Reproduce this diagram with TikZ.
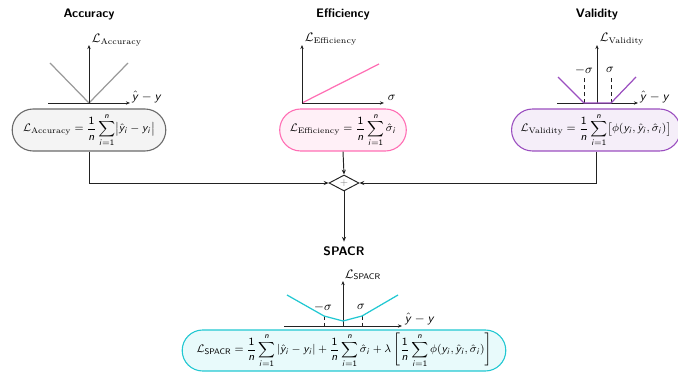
\documentclass[tikz,border=0pt]{standalone}
\usepackage{amsmath}
\usetikzlibrary{shapes.misc,shapes.geometric,arrows.meta}
\DeclareSymbolFont{sfit}{OT1}{cmss}{m}{sl}
\DeclareSymbolFont{sfup}{OT1}{cmss}{m}{n}
\DeclareMathSymbol{y}{\mathalpha}{sfit}{`y}
\DeclareMathSymbol{n}{\mathalpha}{sfit}{`n}
\DeclareMathSymbol{i}{\mathalpha}{sfit}{`i}
\DeclareMathSymbol{1}{\mathalpha}{sfup}{`1}
\newcommand\pxu{0.73pt}
\definecolor{accB}{HTML}{6A6A6A}
\definecolor{accF}{HTML}{F4F4F4}
\definecolor{accL}{HTML}{9A9A9A}
\definecolor{effB}{HTML}{FF6EB4}
\definecolor{effF}{HTML}{FFF0F7}
\definecolor{valB}{HTML}{9B4FC0}
\definecolor{valF}{HTML}{F5EEF9}
\definecolor{spaB}{HTML}{22C8D2}
\definecolor{spaF}{HTML}{E8FAFB}
\definecolor{axc}{HTML}{222222}
\begin{document}
\begin{tikzpicture}[x=0.73pt,y=-0.73pt,
  every node/.style={font=\fontsize{9}{10}\selectfont\sffamily},
  title/.style={font=\fontsize{9}{10}\selectfont\sffamily\bfseries},
  lossbox/.style={rounded rectangle, line width=0.8pt, inner sep=0.5pt, minimum height=42*\pxu,
     font=\fontsize{8.4}{10}\selectfont},
  axis/.style={draw=axc, line width=0.7pt, -{Stealth[length=3pt,width=2.4pt]}},
  conn/.style={draw=axc, line width=0.7pt, -{Stealth[length=3.5pt,width=3pt]}},
  curve/.style={line width=0.9pt},
  guide/.style={densely dashed, line width=0.6pt, draw=axc},
  lab/.style={inner sep=0.5pt}
]
\useasboundingbox (0,0) rectangle (678,372);

% titles
\node[title] (tacc) at (89,14) {Accuracy};
\node[title] (teff) at (343,14) {Efficiency};
\node[title] (tval) at (597,14) {Validity};

% Accuracy plot
\draw[curve, draw=accL] (50,63) -- (89,103) -- (128,63);
\draw[axis] (48,103) -- (130,103);
\draw[axis] (89,103) -- (89,45);
\node[lab, anchor=west] (accx) at (131,97) {$\hat{y}-y$};
\node[lab, anchor=west] (accy) at (91,40) {$\mathcal{L}_{\textrm{Accuracy}}$};

% Efficiency plot
\draw[curve, draw=effB] (302,103) -- (379,64);
\draw[axis] (302,103) -- (384,103);
\draw[axis] (302,103) -- (302,45);
\node[lab, anchor=west] (effx) at (387,98) {$\sigma$};
\node[lab, anchor=west] (effy) at (304,39) {$\mathcal{L}_{\textrm{Efficiency}}$};

% Validity plot
\draw[guide] (584,103) -- (584,77);
\draw[guide] (611,103) -- (611,77);
\draw[axis] (557,103) -- (638,103);
\draw[axis] (597,103) -- (597,45);
\draw[curve, draw=valB] (558,77) -- (584,103) -- (611,103) -- (636,77);
\node[lab] (valm) at (584,70) {$-\sigma$};
\node[lab] (valp) at (610,70) {$\sigma$};
\node[lab, anchor=west] (valx) at (639,97) {$\hat{y}-y$};
\node[lab, anchor=west] (valy) at (599,39) {$\mathcal{L}_{\textrm{Validity}}$};

% loss boxes
\node[lossbox, draw=accB, fill=accF, minimum width=155*\pxu] (acc) at (89,130)
  {$\displaystyle \mathcal{L}_{\textrm{Accuracy}} = \frac{1}{n}\sum_{i=1}^{n}\bigl|\hat{y}_i - y_i\bigr|$};
\node[lossbox, draw=effB, fill=effF, minimum width=128*\pxu] (eff) at (343,130)
  {$\displaystyle \mathcal{L}_{\textrm{Efficiency}} = \frac{1}{n}\sum_{i=1}^{n}\hat{\sigma}_i$};
\node[lossbox, draw=valB, fill=valF, minimum width=163*\pxu] (val) at (596,130)
  {$\displaystyle \mathcal{L}_{\textrm{Validity}} = \frac{1}{n}\sum_{i=1}^{n}\bigl[\phi(y_i,\hat{y}_i,\hat{\sigma}_i)\bigr]$};

% combiner
\node[diamond, draw=axc, line width=0.7pt, inner sep=0pt, minimum width=30*\pxu, minimum height=16*\pxu,
      font=\scriptsize, text=gray] (dia) at (344,183) {$+$};
\node[title] (spt) at (344,251) {SPACR};

\draw[conn] (acc.south) |- (dia.west);
\draw[conn] (eff.south) -- (dia.north);
\draw[conn] (val.south) |- (dia.east);
\draw[conn] (dia.south) -- (spt.north);

% SPACR plot
\draw[guide] (324,316) -- (324,326);
\draw[guide] (362,316) -- (362,326);
\draw[axis] (284,326) -- (402,326);
\draw[axis] (343,326) -- (343,281);
\draw[curve, draw=spaB] (287,295) -- (324,316) -- (343,321) -- (362,316) -- (398,295);
\node[lab] (spm) at (323,307) {$-\sigma$};
\node[lab] (spp) at (361,307) {$\sigma$};
\node[lab, anchor=west] (spx) at (404,319) {$\hat{y}-y$};
\node[lab, anchor=west] (spy) at (344,275) {$\mathcal{L}_{\textsf{SPACR}}$};

\node[lossbox, draw=spaB, fill=spaF, minimum width=325*\pxu, minimum height=41*\pxu] (spa) at (344,350.5)
  {$\displaystyle \mathcal{L}_{\textsf{SPACR}} = \frac{1}{n}\sum_{i=1}^{n}\left|\hat{y}_i - y_i\right| + \frac{1}{n}\sum_{i=1}^{n}\hat{\sigma}_i + \lambda\left[\frac{1}{n}\sum_{i=1}^{n}\phi(y_i,\hat{y}_i,\hat{\sigma}_i)\right]$};
\end{tikzpicture}
\end{document}
